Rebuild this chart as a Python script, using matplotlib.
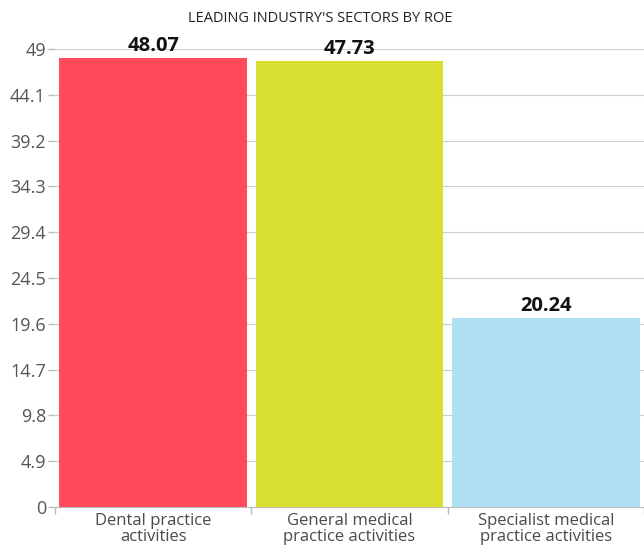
import matplotlib
matplotlib.use("Agg")
import matplotlib.pyplot as plt
import numpy as np

categories = ["Dental practice\nactivities", "General medical\npractice activities", "Specialist medical\npractice activities"]
values = [48.07, 47.73, 20.24]
colors = ["#FF4B5C", "#D9E032", "#AEE0F2"]
yticks = [0, 4.9, 9.8, 14.7, 19.6, 24.5, 29.4, 34.3, 39.2, 44.1, 49]
ytick_labels = ["0", "4.9", "9.8", "14.7", "19.6", "24.5", "29.4", "34.3", "39.2", "44.1", "49"]
title = "LEADING INDUSTRY'S SECTORS BY ROE"

plt.rcParams['font.family'] = ['Open Sans', 'DejaVu Sans']

fig = plt.figure(figsize=(6.44, 5.46), dpi=100)
ax = fig.add_axes([55/644, 1-507/546, 589/644, (507-49)/546])

x = np.arange(len(categories))
ax.bar(x, values, width=0.955, color=colors, zorder=3)
for xi, v in zip(x, values):
    ax.annotate(f"{v:.2f}", (xi, v), xytext=(0, 1), textcoords="offset points",
                ha="center", va="bottom", fontsize=14.5, fontweight="bold",
                color="#111111", annotation_clip=False, zorder=4)

ax.set_xlim(-0.5, len(categories) - 0.5)
ax.set_ylim(0, 49)
ax.set_yticks(yticks)
ax.set_yticklabels(ytick_labels, fontsize=13, color="#555555")
ax.yaxis.grid(True, color="#cccccc", linewidth=0.8, zorder=0)

ax.set_xticks(x)
ax.set_xticklabels(categories, fontsize=12, color="#4a4a4a", linespacing=1.0)
ax.set_xticks(np.arange(-0.5, len(categories), 1.0), minor=True)
ax.tick_params(axis='x', which='major', length=0, pad=4)
ax.tick_params(axis='x', which='minor', length=5, color="#bbbbbb", width=1)
ax.tick_params(axis='y', length=5, color="#bbbbbb", width=1, pad=1.5)

for s in ["top", "right", "left"]:
    ax.spines[s].set_visible(False)
ax.spines["bottom"].set_color("#bbbbbb")

fig.text(320/644, 1 - 18/546, title, ha="center", va="center", fontsize=10.5, color="#222222")

fig.savefig("out.png", dpi=100)
